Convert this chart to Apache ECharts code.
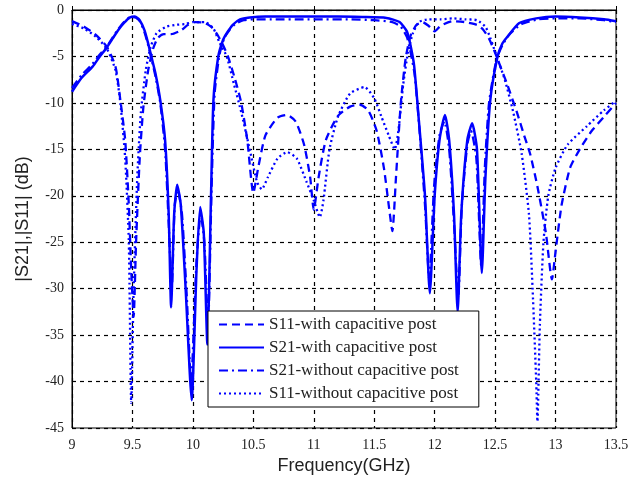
<!DOCTYPE html>
<html>
<head>
<meta charset="utf-8">
<script src="https://cdn.jsdelivr.net/npm/echarts@6/dist/echarts.min.js"></script>
<style>html,body{margin:0;padding:0;background:#fff}#c{width:642px;height:483px}</style>
</head>
<body>
<div id="c"></div>
<script>
const xTicks = [9, 9.5, 10, 10.5, 11, 11.5, 12, 12.5, 13, 13.5];
const yTicks = [0, -5, -10, -15, -20, -25, -30, -35, -40, -45];
const seriesNames = ['S11-with capacitive post', 'S21-with capacitive post', 'S21-without capacitive post', 'S11-without capacitive post'];

const s11With = [
  [9.0,-1.2],[9.1,-1.8],[9.2,-2.7],[9.29,-4.0],[9.36,-6.1],[9.4,-9.7],[9.44,-14],[9.47,-21],[9.49,-28],[9.51,-33],
  [9.53,-25],[9.56,-16],[9.59,-10.5],[9.63,-6.5],[9.67,-4.2],[9.71,-3.0],[9.76,-2.6],[9.82,-2.6],[9.9,-2.2],[9.96,-1.6],
  [10.02,-1.3],[10.1,-1.4],[10.15,-1.8],[10.2,-2.6],[10.25,-3.8],[10.29,-5],[10.35,-7.5],[10.4,-10],[10.45,-14],[10.5,-19.7],
  [10.54,-17],[10.6,-13.5],[10.7,-11.6],[10.78,-11.3],[10.85,-12],[10.92,-14.5],[10.97,-18],[11.0,-21.5],[11.04,-18],[11.1,-14],
  [11.2,-11.4],[11.3,-10.4],[11.38,-10.2],[11.45,-10.8],[11.52,-13],[11.58,-17],[11.62,-21],[11.65,-23.8],[11.68,-18],[11.72,-10],
  [11.76,-5.2],[11.8,-2.8],[11.85,-1.6],[11.9,-1.3],[11.95,-1.7],[12.0,-2.3],[12.05,-1.7],[12.15,-1.2],[12.25,-1.3],[12.35,-1.6],
  [12.4,-2.1],[12.45,-3.1],[12.5,-4.6],[12.55,-6.3],[12.6,-8],[12.68,-11],[12.74,-13.5],[12.79,-15.5],[12.85,-19],[12.92,-24],
  [12.97,-29],[13.0,-26],[13.05,-21],[13.12,-17],[13.2,-15],[13.3,-13],[13.4,-11.5],[13.5,-10]
];

const s21With = [
  [9.0,-8.8],[9.08,-7.3],[9.17,-6.1],[9.23,-5.0],[9.29,-4.0],[9.34,-3.0],[9.38,-2.2],[9.43,-1.4],[9.48,-0.8],[9.52,-0.7],
  [9.56,-1.1],[9.6,-2.2],[9.63,-3.6],[9.66,-5.2],[9.69,-6.8],[9.73,-9.7],[9.77,-14],[9.8,-22],[9.82,-32],[9.845,-22],
  [9.87,-18.8],[9.9,-21],[9.94,-30],[9.99,-42],[10.03,-28],[10.06,-21.2],[10.09,-24],[10.12,-36],[10.15,-20],[10.17,-9.7],
  [10.21,-5],[10.25,-3.2],[10.28,-2.5],[10.33,-1.6],[10.39,-1.0],[10.47,-0.8],[10.6,-0.7],[10.8,-0.7],[11.0,-0.7],[11.2,-0.7],
  [11.4,-0.75],[11.6,-0.85],[11.71,-1.3],[11.77,-2.3],[11.8,-3.8],[11.83,-6],[11.87,-12],[11.92,-20],[11.96,-30.5],[12.0,-20],
  [12.04,-14],[12.085,-11.3],[12.12,-14],[12.16,-22],[12.19,-32.5],[12.22,-22],[12.27,-14],[12.31,-12.2],[12.35,-15],[12.39,-28.3],
  [12.42,-18],[12.46,-9.7],[12.52,-5],[12.56,-3.6],[12.6,-2.9],[12.7,-1.4],[12.84,-0.9],[13.0,-0.7],[13.2,-0.8],[13.4,-1.0],[13.5,-1.2]
];

const s21Without = [
  [9.0,-8.4],[9.08,-7.0],[9.17,-5.8],[9.23,-4.8],[9.29,-3.9],[9.34,-2.9],[9.38,-2.1],[9.43,-1.3],[9.48,-0.8],[9.52,-0.8],
  [9.56,-1.2],[9.6,-2.4],[9.63,-3.8],[9.66,-5.4],[9.69,-7.1],[9.73,-10],[9.77,-15],[9.8,-23],[9.825,-30],[9.85,-21],
  [9.875,-19.4],[9.91,-22],[9.95,-31],[9.985,-40],[10.03,-27],[10.065,-22],[10.095,-25],[10.125,-34],[10.155,-19],[10.18,-9],
  [10.22,-4.8],[10.26,-3.0],[10.3,-2.2],[10.35,-1.5],[10.42,-1.1],[10.5,-1.0],[10.7,-1.0],[10.9,-1.0],[11.1,-1.0],[11.3,-1.0],
  [11.5,-1.1],[11.65,-1.3],[11.72,-1.8],[11.77,-2.9],[11.8,-4.5],[11.835,-7],[11.875,-13],[11.92,-21],[11.955,-29],[11.995,-19],
  [12.04,-13.5],[12.08,-12],[12.12,-15],[12.16,-23],[12.195,-31],[12.225,-21],[12.27,-14.5],[12.3,-13],[12.345,-16],[12.385,-27.5],
  [12.415,-17],[12.45,-10],[12.51,-5.4],[12.56,-3.8],[12.62,-2.6],[12.72,-1.5],[12.86,-1.0],[13.0,-0.9],[13.2,-0.9],[13.4,-1.1],[13.5,-1.3]
];

const s11Without = [
  [9.0,-1.5],[9.1,-2.0],[9.2,-2.9],[9.29,-4.2],[9.36,-6.5],[9.4,-10],[9.44,-16],[9.47,-25],[9.49,-42.3],[9.51,-30],
  [9.54,-18],[9.57,-11],[9.61,-6.5],[9.65,-4],[9.7,-2.5],[9.78,-1.8],[9.86,-1.6],[9.94,-1.5],[10.0,-1.3],[10.1,-1.3],
  [10.17,-2],[10.22,-3.5],[10.28,-5],[10.34,-8],[10.4,-11],[10.47,-15],[10.53,-18.5],[10.57,-19.3],[10.62,-18],[10.7,-16],
  [10.78,-15.3],[10.86,-16],[10.94,-18.5],[11.0,-20.5],[11.05,-22.3],[11.08,-20.5],[11.13,-15],[11.2,-11.5],[11.3,-9],[11.42,-8.3],
  [11.5,-9.5],[11.56,-11.5],[11.62,-13.5],[11.67,-15],[11.7,-13],[11.74,-8],[11.78,-4.5],[11.82,-2.5],[11.87,-1.3],[11.95,-1.0],
  [12.05,-1.0],[12.15,-0.9],[12.25,-1.0],[12.35,-1.1],[12.42,-1.8],[12.46,-3.0],[12.5,-4.5],[12.58,-7.5],[12.65,-11],[12.72,-15.5],
  [12.78,-22],[12.81,-30],[12.84,-40],[12.85,-44.3],[12.87,-34],[12.9,-25],[12.94,-20],[13.0,-17],[13.1,-14.5],[13.26,-12.5],
  [13.4,-10.8],[13.5,-9.8]
];

const chart = echarts.init(document.getElementById('c'), null, {renderer: 'canvas'});
const blue = '#0000ff';
const tickFont = {fontFamily: 'Liberation Serif', fontSize: 14, color: '#222'};
const option = {
  backgroundColor: '#fff',
  animation: false,
  grid: {left: 72, right: 26, top: 10, bottom: 55, show: true, borderColor: '#000', borderWidth: 1, backgroundColor: 'transparent'},
  legend: {
    left: 208, top: 311, orient: 'vertical',
    padding: [5, 20, 5, 10], itemGap: 6, itemWidth: 45, itemHeight: 16,
    backgroundColor: '#fff', borderColor: '#000', borderWidth: 1,
    itemStyle: {color: 'transparent', borderColor: 'transparent', borderWidth: 0},
    textStyle: {fontFamily: 'Liberation Serif', fontSize: 17, color: '#222'},
    data: seriesNames
  },
  xAxis: {
    type: 'value', min: xTicks[0], max: xTicks[xTicks.length - 1], interval: 0.5,
    name: 'Frequency(GHz)', nameLocation: 'middle', nameGap: 28,
    nameTextStyle: {fontFamily: 'Liberation Sans', fontSize: 18, color: '#222'},
    axisLine: {lineStyle: {color: '#000', width: 1}},
    axisTick: {inside: true, length: 4, lineStyle: {color: '#000'}},
    axisLabel: Object.assign({margin: 10, formatter: v => String(v)}, tickFont),
    splitLine: {show: true, lineStyle: {color: '#000', type: [4, 4], width: 1.2}}
  },
  yAxis: {
    type: 'value', min: yTicks[yTicks.length - 1], max: yTicks[0], interval: 5,
    name: '|S21|,|S11| (dB)', nameLocation: 'middle', nameGap: 40, nameRotate: 90,
    nameTextStyle: {fontFamily: 'Liberation Sans', fontSize: 18, color: '#222'},
    axisLine: {lineStyle: {color: '#000', width: 1}},
    axisTick: {inside: true, length: 4, lineStyle: {color: '#000'}},
    axisLabel: Object.assign({margin: 8}, tickFont),
    splitLine: {show: true, lineStyle: {color: '#000', type: [4, 4], width: 1.2}}
  },
  series: [
    {name: seriesNames[0], type: 'line', data: s11With, symbol: 'none', smooth: 0.2,
     lineStyle: {color: blue, width: 2.3, type: [8, 5]}, itemStyle: {color: blue}},
    {name: seriesNames[1], type: 'line', data: s21With, symbol: 'none', smooth: 0.2,
     lineStyle: {color: blue, width: 2.5, type: 'solid'}, itemStyle: {color: blue}},
    {name: seriesNames[2], type: 'line', data: s21Without, symbol: 'none', smooth: 0.2,
     lineStyle: {color: blue, width: 2.3, type: [9, 4, 2, 4]}, itemStyle: {color: blue}},
    {name: seriesNames[3], type: 'line', data: s11Without, symbol: 'none', smooth: 0.2,
     lineStyle: {color: blue, width: 2.3, type: [2, 3]}, itemStyle: {color: blue}}
  ]
};
chart.setOption(option);
</script>
</body>
</html>
